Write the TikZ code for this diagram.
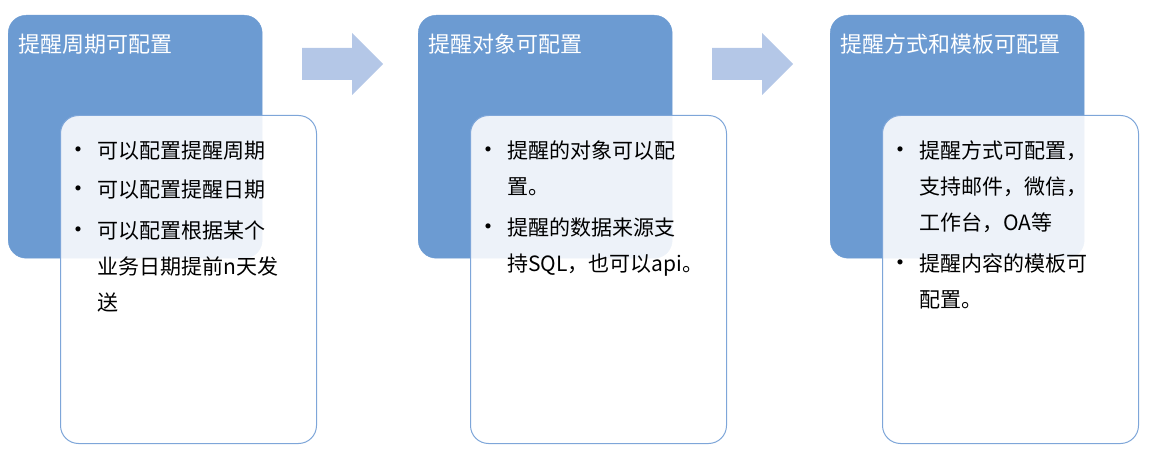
\documentclass[tikz,border=0pt]{standalone}
\usepackage{fontspec}
\newfontfamily\cjk{Noto Sans CJK SC}
\usetikzlibrary{positioning}
\definecolor{headblue}{HTML}{6C9BD2}
\definecolor{edgeblue}{HTML}{7EA6D9}
\definecolor{arrowblue}{HTML}{B4C7E7}
\tikzset{
  headbox/.style={fill=headblue,draw=headblue,rounded corners=18pt,minimum width=254pt,minimum height=243pt,inner sep=0pt},
  bodybox/.style={fill=white,fill opacity=0.88,draw=edgeblue,line width=1pt,rounded corners=18pt,minimum width=256pt,minimum height=328pt,inner sep=0pt},
  headtext/.style={text=white,font=\cjk\fontsize{22pt}{26pt}\selectfont,anchor=west,inner sep=0pt},
  bodytext/.style={text=black,font=\cjk\fontsize{21pt}{36pt}\selectfont,anchor=north west,align=left,inner sep=0pt},
  flowarrow/.style={fill=arrowblue,draw=none}
}
\newcommand{\bl}{\llap{\fontsize{24pt}{24pt}\selectfont•\hspace{7pt}}}
\begin{document}
\begin{tikzpicture}[x=1pt,y=-1pt]
  \useasboundingbox (0,0) rectangle (1159,462);
  % columns
  \foreach \n/\x in {1/8,2/418,3/830}{
    \node[headbox,anchor=north west] (head\n) at (\x,15) {};
    \node[bodybox,anchor=north west] (body\n) at (\x+52,115) {};
  }
  \node[headtext] (title1) at (18,44) {提醒周期可配置};
  \node[headtext] (title2) at (428,44) {提醒对象可配置};
  \node[headtext] (title3) at (840,44) {提醒方式和模板可配置};
  \node[bodytext] (list1) at (97,141) {\bl 可以配置提醒周期\\[3pt]
    \bl 可以配置提醒日期\\[5pt]
    \bl 可以配置根据某个\\
    业务日期提前n天发\\
    送};
  \node[bodytext] (list2) at (507,141) {\bl 提醒的对象可以配\\
    置。\\[5pt]
    \bl 提醒的数据来源支\\
    持SQL，也可以api。};
  \node[bodytext] (list3) at (919,141) {\bl 提醒方式可配置，\\
    支持邮件，微信，\\
    工作台，OA等\\[5pt]
    \bl 提醒内容的模板可\\
    配置。};
  % arrows
  \foreach \x in {302,712}
    \fill[flowarrow] (\x,48) -- (\x+50,48) -- (\x+50,33) -- (\x+81,64)
      -- (\x+50,95) -- (\x+50,80) -- (\x,80) -- cycle;
\end{tikzpicture}
\end{document}
